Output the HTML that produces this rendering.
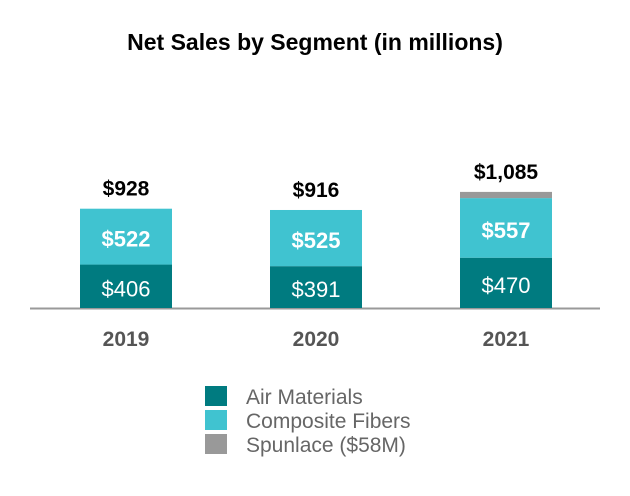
<!DOCTYPE html>
<html><head><meta charset="utf-8"><style>
body{margin:0;background:#fff;}
svg{display:block;font-family:"Liberation Sans",Arial,sans-serif;}
</style></head><body>
<svg id="chart" width="630" height="496">
<text x="315" y="50" text-anchor="middle" font-size="23" font-weight="bold" fill="#000">Net Sales by Segment (in millions)</text>
<line x1="30" y1="308.5" x2="600" y2="308.5" stroke="#999" stroke-width="2"/>
<g id="bars"></g>
<g>
<rect x="205" y="386" width="22" height="20" fill="#007B80"/>
<text x="246" y="404" font-size="21" fill="#666">Air Materials</text>
<rect x="205" y="410" width="22" height="20" fill="#40C3D0"/>
<text x="246" y="428" font-size="21" fill="#666">Composite Fibers</text>
<rect x="205" y="434" width="22" height="20" fill="#999"/>
<text x="246" y="452" font-size="21" fill="#666">Spunlace ($58M)</text>
</g>
</svg>
<script>
const categories = ["2019","2020","2021"];
const airMaterials = [406,391,470];
const compositeFibers = [522,525,557];
const spunlace = [0,0,58];
const totalLabels = ["$928","$916","$1,085"];

const baseY = 308, scale = 0.107, barW = 92;
const xPos = i => 80 + i*190;
const yPos = v => baseY - v*scale;
const NS = "http://www.w3.org/2000/svg";
const g = document.getElementById("bars");
function mk(tag, attrs){const e=document.createElementNS(NS,tag);for(const k in attrs)e.setAttribute(k,attrs[k]);g.appendChild(e);return e;}
categories.forEach((c,i)=>{
  const x = xPos(i);
  const a = airMaterials[i], b = compositeFibers[i], s = spunlace[i];
  let r = mk("rect",{x:x,y:yPos(a),width:barW,height:baseY-yPos(a),fill:"#007B80"});
  
  
  r = mk("rect",{x:x,y:yPos(a+b),width:barW,height:yPos(a)-yPos(a+b),fill:"#40C3D0"});
  
  
  if(s>0){
    r = mk("rect",{x:x,y:yPos(a+b+s),width:barW,height:yPos(a+b)-yPos(a+b+s),fill:"#999"});
    
    
  }
  let t = mk("text",{x:x+barW/2,y:(yPos(a)+baseY)/2+10,"text-anchor":"middle","font-size":"22",fill:"#fff"});
  t.textContent = "$"+a;
  
  
  t = mk("text",{x:x+barW/2,y:(yPos(a)+yPos(a+b))/2+10,"text-anchor":"middle","font-size":"22","font-weight":"bold",fill:"#fff"});
  t.textContent = "$"+b;
  
  
  t = mk("text",{x:x+barW/2,y:yPos(a+b+s)-13,"text-anchor":"middle","font-size":"21","font-weight":"bold",fill:"#000"});
  t.textContent = totalLabels[i];
  
  
  t = mk("text",{x:x+barW/2,y:346,"text-anchor":"middle","font-size":"21","font-weight":"bold",fill:"#555"});
  t.textContent = c;
  
  
});
</script>
</body></html>
